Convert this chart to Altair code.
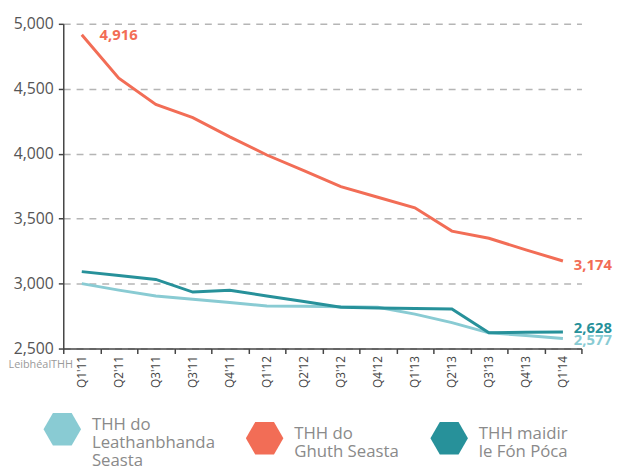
import json
import altair as alt
import pandas as pd

# ---- data ----
quarters = ["Q1'11", "Q2'11", "Q3'11", "Q3'11", "Q4'11", "Q1'12", "Q2'12",
            "Q3'12", "Q4'12", "Q1'13", "Q2'13", "Q3'13", "Q4'13", "Q1'14"]
series_names = ["THH do Leathanbhanda Seasta", "THH do Ghuth Seasta", "THH maidir le Fón Póca"]
legend_lines = [["THH do", "Leathanbhanda", "Seasta"],
                ["THH do", "Ghuth Seasta"],
                ["THH maidir", "le Fón Póca"]]
colors = ["#89CBD3", "#F26D56", "#27919A"]
broadband = [3000, 2950, 2905, 2880, 2855, 2828, 2825, 2822, 2818, 2765, 2700, 2621, 2600, 2577]
voice = [4916, 4582, 4379, 4278, 4130, 3990, 3870, 3746, 3665, 3584, 3404, 3349, 3260, 3174]
mobile = [3092, 3062, 3032, 2935, 2948, 2905, 2862, 2818, 2812, 2808, 2804, 2621, 2625, 2628]
y_ticks = [2500, 3000, 3500, 4000, 4500, 5000]

rows = []
for name, vals in zip(series_names, [broadband, voice, mobile]):
    for i, v in enumerate(vals):
        rows.append({"series": name, "idx": i, "value": v})
df = pd.DataFrame(rows)

FONT = "Open Sans"
# flat-topped hexagon, drawn slightly below the first label line
hexagon = "M-1,0.2L-0.5,-0.666L0.5,-0.666L1,0.2L0.5,1.066L-0.5,1.066Z"

label_expr_x = json.dumps(quarters, ensure_ascii=False) + "[datum.value]"
legend_expr = ""
for name, lines in zip(series_names[:-1], legend_lines[:-1]):
    legend_expr += ("datum.label == " + json.dumps(name, ensure_ascii=False) + " ? "
                    + json.dumps("|".join(lines), ensure_ascii=False) + " : ")
legend_expr += json.dumps("|".join(legend_lines[-1]), ensure_ascii=False)

x = alt.X("idx:O",
          scale=alt.Scale(type="band", paddingInner=0, paddingOuter=0),
          bandPosition=0.5,
          axis=alt.Axis(title=None, labelExpr=label_expr_x, labelAngle=-90,
                        tickBand="extent", labelFont=FONT, labelFontSize=12,
                        labelColor="#444", labelPadding=2, tickSize=5,
                        tickColor="#444", tickWidth=1.5, domainColor="#444",
                        domainWidth=1.5, grid=False))
y = alt.Y("value:Q",
          scale=alt.Scale(domain=[2500, 5000], nice=False, zero=False),
          axis=alt.Axis(values=y_ticks, format=",.0f", labelFont=FONT, labelFontSize=16,
                        labelColor="#555", labelPadding=5, tickSize=5, tickColor="#444",
                        tickWidth=1.5, domainColor="#444", domainWidth=1.5,
                        grid=True, gridColor="#b5b5b5", gridWidth=1.5, gridDash=[7, 6],
                        title="LeibhéalTHH", titleAngle=0, titleX=-56, titleY=348,
                        titleAlign="left", titleBaseline="alphabetic", titleFont=FONT,
                        titleFontSize=11, titleFontWeight="normal", titleColor="#9a9a9a"))

# line colour scale (domain listed in reverse so that it is not merged with the legend's fill scale)
color_scale = alt.Scale(domain=series_names[::-1], range=colors[::-1])
fill_scale = alt.Scale(domain=series_names, range=colors)

base = alt.Chart(df).encode(
    x=x, y=y, color=alt.Color("series:N", scale=color_scale, legend=None))

lines = base.mark_line(strokeWidth=3)

# points carrying only the legend (hexagon symbols); no data rows are drawn
legend_layer = alt.Chart(df).transform_filter("false").mark_point(
    filled=True, shape=hexagon).encode(
    x=x, y=y,
    fill=alt.Fill("series:N", scale=fill_scale,
                  legend=alt.Legend(title=None, orient="none", legendX=-20, legendY=388,
                                    direction="horizontal", symbolType=hexagon,
                                    symbolSize=1444, symbolStrokeWidth=0,
                                    symbolOpacity=1,
                                    labelExpr=legend_expr, labelFont=FONT,
                                    labelFontSize=17, labelColor="#8a8a8a",
                                    labelOffset=11, labelLimit=300,
                                    columnPadding=31, padding=0)))

first_label = base.transform_filter(
    "datum.idx == 0 && datum.series == 'THH do Ghuth Seasta'").mark_text(
    align="left", baseline="middle", dx=18, font=FONT, fontSize=15, fontWeight="bold").encode(
    text=alt.Text("value:Q", format=","))

end_voice = base.transform_filter(
    "datum.idx == 13 && datum.series == 'THH do Ghuth Seasta'").mark_text(
    align="left", baseline="middle", dx=11, dy=4, font=FONT, fontSize=15, fontWeight="bold").encode(
    text=alt.Text("value:Q", format=","))

end_broadband = base.transform_filter(
    "datum.idx == 13 && datum.series == 'THH do Leathanbhanda Seasta'").mark_text(
    align="left", baseline="middle", dx=11, dy=2, font=FONT, fontSize=15, fontWeight="bold").encode(
    text=alt.Text("value:Q", format=","))

end_mobile = base.transform_filter(
    "datum.idx == 13 && datum.series == 'THH maidir le Fón Póca'").mark_text(
    align="left", baseline="middle", dx=11, dy=-4, font=FONT, fontSize=15, fontWeight="bold").encode(
    text=alt.Text("value:Q", format=","))

chart = alt.layer(lines, legend_layer, first_label, end_voice, end_broadband, end_mobile).properties(
    width=525, height=329,
    padding={"left": 56, "top": 13, "right": 33, "bottom": 118},
    autosize=alt.AutoSizeParams(type="none"),
).configure(
    view=alt.ViewConfig(stroke=None),
    style={"guide-label": {"lineBreak": "|", "lineHeight": 18}},
)

chart.save("out.html", embed_options={"renderer": "svg", "actions": False})
